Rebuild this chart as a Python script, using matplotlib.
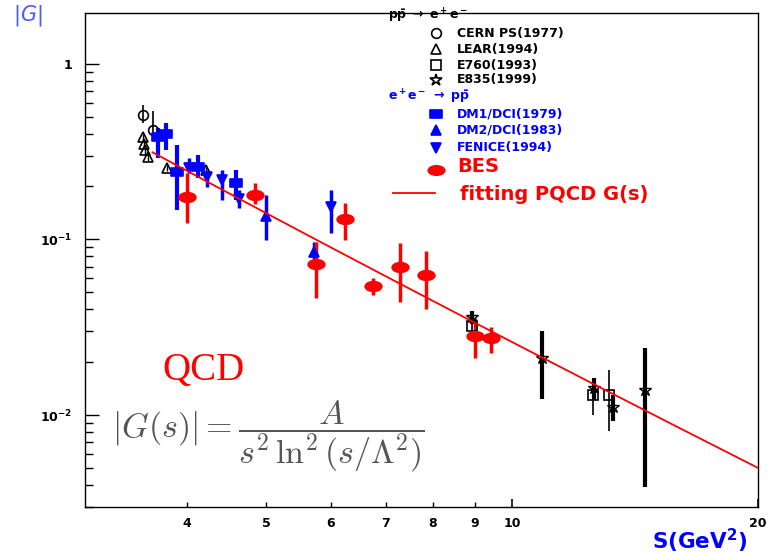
import numpy as np
import matplotlib
matplotlib.use("Agg")
import matplotlib.pyplot as plt
from matplotlib.path import Path
from matplotlib.transforms import Affine2D

# pp -> e+e- (black, open markers)
cern_s = [3.53, 3.63]
cern_g = [0.508, 0.418]
cern_lo = [0.458, 0.38]
cern_hi = [0.58, 0.54]

lear_s = [3.535, 3.545, 3.555, 3.585, 3.78, 4.22]
lear_g = [0.381, 0.348, 0.322, 0.294, 0.254, 0.248]
lear_lo = [0.365, 0.335, 0.308, 0.280, 0.244, 0.238]
lear_hi = [0.397, 0.362, 0.336, 0.308, 0.264, 0.258]

e760_s = [8.94, 12.55, 13.13]
e760_g = [0.032, 0.0131, 0.0131]
e760_lo = [0.029, 0.0100, 0.0081]
e760_hi = [0.035, 0.0153, 0.0181]

e835_s = [8.92, 10.87, 12.59, 13.28, 14.54]
e835_g = [0.036, 0.0212, 0.0143, 0.0111, 0.0139]
e835_lo = [0.033, 0.0124, 0.0122, 0.0092, 0.0039]
e835_hi = [0.039, 0.0301, 0.0163, 0.0131, 0.0241]

# e+e- -> pp (blue, filled markers)
dm1_s = [3.69, 3.77, 3.89, 4.12, 4.59]
dm1_g = [0.381, 0.397, 0.241, 0.258, 0.209]
dm1_lo = [0.290, 0.322, 0.147, 0.223, 0.167]
dm1_hi = [0.429, 0.458, 0.343, 0.301, 0.248]

dm2_s = [4.99, 5.72]
dm2_g = [0.1356, 0.0847]
dm2_lo = [0.0991, 0.0743]
dm2_hi = [0.1785, 0.0969]

fenice_s = [4.02, 4.23, 4.42, 4.63, 6.0]
fenice_g = [0.255, 0.226, 0.217, 0.169, 0.1526]
fenice_lo = [0.238, 0.198, 0.167, 0.1506, 0.1086]
fenice_hi = [0.290, 0.248, 0.248, 0.1906, 0.1906]

# BES
bes_s = [4.0, 4.84, 5.76, 6.25, 6.76, 7.29, 7.84, 9.0, 9.42]
bes_g = [0.174, 0.178, 0.0724, 0.130, 0.0543, 0.0696, 0.0627, 0.0282, 0.0275]
bes_lo = [0.124, 0.159, 0.0464, 0.099, 0.0483, 0.044, 0.0402, 0.0212, 0.0226]
bes_hi = [0.238, 0.209, 0.0969, 0.161, 0.0603, 0.0953, 0.0858, 0.0357, 0.0317]

# PQCD fit parameters: |G| = A / (s^2 ln^2(s/Lambda^2))
fit_A = 63.5
fit_lam2 = 0.0717
fit_range = [3.63, 20.0]

xtick_major = [10, 20]
xtick_minor = [4, 5, 6, 7, 8, 9]
ytick_major = [0.01, 0.1, 1]
ytick_labels = [r'$\mathbf{10^{-2}}$', r'$\mathbf{10^{-1}}$', r'$\mathbf{1}$']

RED = '#ff0000'
BLUE = '#0000ff'

W, H = 770, 555


def fx(px):
    return px / W


def fy(py):
    return 1 - py / H


ellipse = Affine2D().scale(1.0, 0.58).transform_path(Path.unit_circle())
rect = Path([(-1, -0.65), (1, -0.65), (1, 0.65), (-1, 0.65), (-1, -0.65)],
            [Path.MOVETO, Path.LINETO, Path.LINETO, Path.LINETO, Path.CLOSEPOLY])


def draw(ax, s, g, lo, hi, color, marker, ms, lw, filled=True, mew=1.2):
    s = np.array(s)
    g = np.array(g)
    err = [g - np.array(lo), np.array(hi) - g]
    ax.errorbar(s, g, yerr=err, fmt='none', ecolor=color, elinewidth=lw,
                capsize=0, zorder=3)
    ax.plot(s, g, linestyle='none', marker=marker, ms=ms, color=color,
            mfc=color if filled else 'none', mec=color, mew=mew, zorder=4)


fig = plt.figure(figsize=(7.7, 5.55), dpi=100)
ax = fig.add_axes([fx(85), fy(507), fx(758) - fx(85), fy(12.7) - fy(507)])
ax.set_xscale('log')
ax.set_yscale('log')
ax.set_xlim(3, 20)
ax.set_ylim(0.003, 1.95)

draw(ax, cern_s, cern_g, cern_lo, cern_hi, 'black', 'o', 7, 1.2, filled=False)
draw(ax, lear_s, lear_g, lear_lo, lear_hi, 'black', '^', 7, 1.0, filled=False)
draw(ax, e760_s, e760_g, e760_lo, e760_hi, 'black', 's', 7, 1.2, filled=False)
draw(ax, e835_s, e835_g, e835_lo, e835_hi, 'black', '*', 9, 3.0, filled=False, mew=1.0)
draw(ax, dm1_s, dm1_g, dm1_lo, dm1_hi, BLUE, rect, 8, 3.0)
draw(ax, dm2_s, dm2_g, dm2_lo, dm2_hi, BLUE, '^', 6.5, 2.5)
draw(ax, fenice_s, fenice_g, fenice_lo, fenice_hi, BLUE, 'v', 6.5, 2.5)
draw(ax, bes_s, bes_g, bes_lo, bes_hi, RED, ellipse, 12, 2.5)

# PQCD fit curve
sf = np.geomspace(fit_range[0], fit_range[1], 200)
gf = fit_A / (sf ** 2 * np.log(sf / fit_lam2) ** 2)
ax.plot(sf, gf, color=RED, lw=1.3, zorder=5)

# axes and ticks
ax.set_xticks(xtick_major, labels=[str(t) for t in xtick_major])
ax.set_xticks(xtick_minor, labels=[str(t) for t in xtick_minor], minor=True)
ymin = [k * 10.0 ** e for e in range(-3, 1) for k in range(2, 10)]
ymin = [v for v in ymin if 0.003 <= v <= 1.95]
ax.set_yticks(ytick_major, labels=ytick_labels)
ax.set_yticks(ymin, labels=[''] * len(ymin), minor=True)
ax.tick_params(which='both', direction='in', top=False, right=False,
               labelsize=9)
ax.tick_params(axis='x', which='major', length=6, width=1.2, pad=7)
ax.tick_params(axis='x', which='minor', length=3.5, width=1.0, pad=7)
ax.tick_params(axis='y', which='major', length=10, width=1.0, pad=9)
ax.tick_params(axis='y', which='minor', length=5.5, width=1.0)
for lab in ax.get_xticklabels(which='both'):
    lab.set_fontweight('bold')
for sp in ax.spines.values():
    sp.set_linewidth(1.0)

# axis titles
fig.text(fx(28), fy(16), r'$|G|$', color='#4a5cff', fontsize=15,
         ha='center', va='center')
fig.text(fx(700), fy(541), r'S(GeV$^\mathbf{2}$)', color=BLUE, fontsize=15.5,
         fontweight='bold', ha='center', va='center')

# legend
leg_font = dict(fontsize=9, fontweight='bold', va='center', ha='left')
fig.text(fx(388), fy(16), r'$\mathbf{p\bar{p}\ \rightarrow\ e^+e^-}$',
         color='black', **leg_font)
fig.text(fx(388), fy(97), r'$\mathbf{e^+e^-\ \rightarrow\ p\bar{p}}$',
         color=BLUE, **leg_font)
legend_rows = [
    ('o', False, 'black', 7, 'CERN PS(1977)', 33),
    ('^', False, 'black', 7, 'LEAR(1994)', 49),
    ('s', False, 'black', 7, 'E760(1993)', 65),
    ('*', False, 'black', 9, 'E835(1999)', 80),
    (rect, True, BLUE, 8, 'DM1/DCI(1979)', 114),
    ('^', True, BLUE, 6.5, 'DM2/DCI(1983)', 130),
    ('v', True, BLUE, 6.5, 'FENICE(1994)', 148),
]
for mk, filled, col, ms, name, py in legend_rows:
    ax.plot([fx(436)], [fy(py)], transform=fig.transFigure, clip_on=False,
            marker=mk, ms=ms, color=col, mfc=col if filled else 'none',
            mec=col, mew=1.2, linestyle='none')
    fig.text(fx(457), fy(py), name, color=col, **leg_font)
ax.plot([fx(436)], [fy(170)], transform=fig.transFigure, clip_on=False,
        marker=ellipse, ms=12, color=RED, linestyle='none')
fig.text(fx(457), fy(167), 'BES', color=RED, fontsize=14, fontweight='bold',
         va='center', ha='left')
ax.plot([fx(393), fx(435)], [fy(193), fy(193)], transform=fig.transFigure,
        clip_on=False, color=RED, lw=1.3)
fig.text(fx(460), fy(194), 'fitting PQCD G(s)', color=RED, fontsize=14,
         fontweight='bold', va='center', ha='left')

# annotations
fig.text(fx(203), fy(370), 'QCD', color=RED, fontsize=28,
         family='Liberation Serif', ha='center', va='center')
fig.text(fx(268), fy(436), r'$|G(s)| = \dfrac{A}{s^2\,\ln^2(s/\Lambda^2)}$',
         color='#555555', fontsize=24.5, math_fontfamily='cm',
         ha='center', va='center')

fig.savefig('out.png', dpi=100)
